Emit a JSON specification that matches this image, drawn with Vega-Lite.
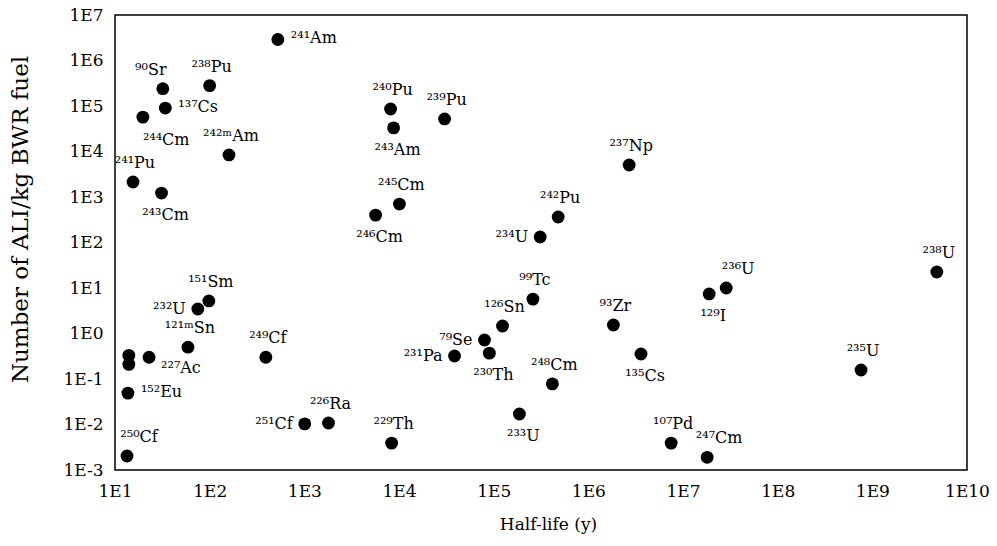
{
  "$schema": "https://vega.github.io/schema/vega-lite/v6.json",
  "width": 852,
  "height": 455,
  "autosize": {"type": "none"},
  "padding": {"left": 115, "top": 15, "right": 30, "bottom": 76},
  "background": "white",
  "config": {"view": {"stroke": "#000", "strokeWidth": 1.5}, "font": "DejaVu Serif"},
  "data": {"values": [
    {"iso": "²⁴¹Am", "hl": 525, "ali": 2900000, "pos": "right"},
    {"iso": "⁹⁰Sr", "hl": 32, "ali": 240000, "pos": "aboveLeft"},
    {"iso": "²³⁸Pu", "hl": 100, "ali": 280000, "pos": "above"},
    {"iso": "¹³⁷Cs", "hl": 34, "ali": 90000, "pos": "right"},
    {"iso": "²⁴⁴Cm", "hl": 19.7, "ali": 57000, "pos": "belowRight"},
    {"iso": "²⁴²ᵐAm", "hl": 160, "ali": 8400, "pos": "above"},
    {"iso": "²⁴¹Pu", "hl": 15.5, "ali": 2140, "pos": "above"},
    {"iso": "²⁴³Cm", "hl": 31, "ali": 1220, "pos": "below"},
    {"iso": "²⁴⁰Pu", "hl": 8150, "ali": 86000, "pos": "above"},
    {"iso": "²⁴³Am", "hl": 8770, "ali": 33000, "pos": "below"},
    {"iso": "²³⁹Pu", "hl": 30300, "ali": 52000, "pos": "above"},
    {"iso": "²³⁷Np", "hl": 2700000, "ali": 5050, "pos": "above"},
    {"iso": "²⁴⁵Cm", "hl": 10100, "ali": 700, "pos": "above"},
    {"iso": "²⁴⁶Cm", "hl": 5660, "ali": 400, "pos": "below"},
    {"iso": "²⁴²Pu", "hl": 480000, "ali": 363, "pos": "above"},
    {"iso": "²³⁴U", "hl": 310000, "ali": 132, "pos": "left"},
    {"iso": "¹⁵¹Sm", "hl": 98, "ali": 5.2, "pos": "above"},
    {"iso": "²³²U", "hl": 75, "ali": 3.45, "pos": "left"},
    {"iso": "¹²¹ᵐSn", "hl": 59, "ali": 0.5, "pos": "above"},
    {"iso": "²⁴⁹Cf", "hl": 392, "ali": 0.3, "pos": "above"},
    {"iso": "", "hl": 14, "ali": 0.33, "pos": "none"},
    {"iso": "", "hl": 14, "ali": 0.21, "pos": "none"},
    {"iso": "²²⁷Ac", "hl": 22.9, "ali": 0.3, "pos": "rightLow"},
    {"iso": "¹⁵²Eu", "hl": 13.7, "ali": 0.049, "pos": "right"},
    {"iso": "²⁵¹Cf", "hl": 1010, "ali": 0.0103, "pos": "left"},
    {"iso": "²²⁶Ra", "hl": 1800, "ali": 0.0108, "pos": "above"},
    {"iso": "²²⁹Th", "hl": 8360, "ali": 0.0039, "pos": "above"},
    {"iso": "²⁵⁰Cf", "hl": 13.4, "ali": 0.00203, "pos": "aboveRight"},
    {"iso": "⁹⁹Tc", "hl": 260000, "ali": 5.7, "pos": "above"},
    {"iso": "¹²⁶Sn", "hl": 124000, "ali": 1.46, "pos": "above"},
    {"iso": "⁷⁹Se", "hl": 80000, "ali": 0.72, "pos": "left"},
    {"iso": "²³⁰Th", "hl": 90000, "ali": 0.37, "pos": "below"},
    {"iso": "²³¹Pa", "hl": 38600, "ali": 0.32, "pos": "left"},
    {"iso": "²⁴⁸Cm", "hl": 417000, "ali": 0.078, "pos": "above"},
    {"iso": "²³³U", "hl": 187000, "ali": 0.017, "pos": "below"},
    {"iso": "⁹³Zr", "hl": 1840000, "ali": 1.54, "pos": "above"},
    {"iso": "¹³⁵Cs", "hl": 3600000, "ali": 0.354, "pos": "below"},
    {"iso": "¹²⁹I", "hl": 18900000, "ali": 7.4, "pos": "below"},
    {"iso": "²³⁶U", "hl": 28600000, "ali": 10, "pos": "aboveRight"},
    {"iso": "¹⁰⁷Pd", "hl": 7500000, "ali": 0.0039, "pos": "above"},
    {"iso": "²⁴⁷Cm", "hl": 18000000, "ali": 0.0019, "pos": "aboveRight"},
    {"iso": "²³⁵U", "hl": 760000000, "ali": 0.158, "pos": "above"},
    {"iso": "²³⁸U", "hl": 4800000000, "ali": 22.5, "pos": "above"}
  ]},
  "encoding": {
    "x": {
      "field": "hl", "type": "quantitative",
      "scale": {"type": "log", "domain": [10, 10000000000], "nice": false},
      "axis": {
        "title": "Half-life (y)",
        "values": [10, 100, 1000, 10000, 100000, 1000000, 10000000, 100000000, 1000000000, 10000000000],
        "labelExpr": "'1E' + round(log(datum.value)/LN10)",
        "labelFont": "DejaVu Serif", "labelFontSize": 17, "labelColor": "#000",
        "labelPadding": 13, "ticks": false, "domain": false, "grid": false,
        "labelFlush": false, "labelOverlap": false, "labelBound": false,
        "titleFont": "DejaVu Serif", "titleFontSize": 17, "titleFontWeight": "normal", "titleColor": "#000",
        "titleX": 433, "titleY": 54, "titleBaseline": "middle", "titleAlign": "center"
      }
    },
    "y": {
      "field": "ali", "type": "quantitative",
      "scale": {"type": "log", "domain": [0.001, 10000000], "nice": false},
      "axis": {
        "title": "Number of ALI/kg BWR fuel",
        "values": [0.001, 0.01, 0.1, 1, 10, 100, 1000, 10000, 100000, 1000000, 10000000],
        "labelExpr": "'1E' + round(log(datum.value)/LN10)",
        "labelFont": "DejaVu Serif", "labelFontSize": 17, "labelColor": "#000",
        "labelPadding": 12, "ticks": false, "domain": false, "grid": false,
        "labelFlush": false, "labelOverlap": false, "labelBound": false,
        "titleFont": "DejaVu Serif", "titleFontSize": 23, "titleFontWeight": "normal", "titleColor": "#000",
        "titleX": -95, "titleY": 204, "titleBaseline": "middle", "titleAlign": "center", "titleAngle": -90
      }
    }
  },
  "layer": [
    {"mark": {"type": "point", "shape": "circle", "filled": true, "color": "#000", "size": 165, "opacity": 1}},
    {"transform": [{"filter": "datum.pos == 'above'"}],
     "mark": {"type": "text", "font": "DejaVu Serif", "fontSize": 16, "color": "#000", "align": "center", "baseline": "middle", "dx": 2, "dy": -19},
     "encoding": {"text": {"field": "iso"}}},
    {"transform": [{"filter": "datum.pos == 'aboveRight'"}],
     "mark": {"type": "text", "font": "DejaVu Serif", "fontSize": 16, "color": "#000", "align": "center", "baseline": "middle", "dx": 12, "dy": -19},
     "encoding": {"text": {"field": "iso"}}},
    {"transform": [{"filter": "datum.pos == 'aboveLeft'"}],
     "mark": {"type": "text", "font": "DejaVu Serif", "fontSize": 16, "color": "#000", "align": "center", "baseline": "middle", "dx": -12, "dy": -19},
     "encoding": {"text": {"field": "iso"}}},
    {"transform": [{"filter": "datum.pos == 'below'"}],
     "mark": {"type": "text", "font": "DejaVu Serif", "fontSize": 16, "color": "#000", "align": "center", "baseline": "middle", "dx": 4, "dy": 22},
     "encoding": {"text": {"field": "iso"}}},
    {"transform": [{"filter": "datum.pos == 'belowRight'"}],
     "mark": {"type": "text", "font": "DejaVu Serif", "fontSize": 16, "color": "#000", "align": "left", "baseline": "middle", "dx": 0, "dy": 23},
     "encoding": {"text": {"field": "iso"}}},
    {"transform": [{"filter": "datum.pos == 'right'"}],
     "mark": {"type": "text", "font": "DejaVu Serif", "fontSize": 16, "color": "#000", "align": "left", "baseline": "middle", "dx": 13, "dy": -1},
     "encoding": {"text": {"field": "iso"}}},
    {"transform": [{"filter": "datum.pos == 'rightLow'"}],
     "mark": {"type": "text", "font": "DejaVu Serif", "fontSize": 16, "color": "#000", "align": "left", "baseline": "middle", "dx": 12, "dy": 11},
     "encoding": {"text": {"field": "iso"}}},
    {"transform": [{"filter": "datum.pos == 'left'"}],
     "mark": {"type": "text", "font": "DejaVu Serif", "fontSize": 16, "color": "#000", "align": "right", "baseline": "middle", "dx": -12, "dy": 0},
     "encoding": {"text": {"field": "iso"}}}
  ]
}
